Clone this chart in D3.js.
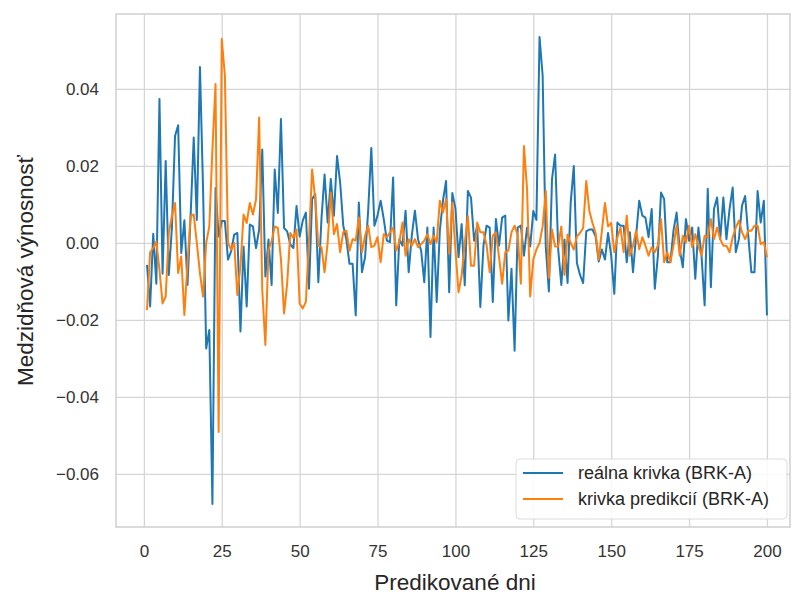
<!DOCTYPE html>
<html>
<head>
<meta charset="utf-8">
<script src="https://cdn.jsdelivr.net/npm/d3@7"></script>
<style>
  body { margin: 0; background: #fff; }
  text { font-family: "Liberation Sans", Arial, sans-serif; }
</style>
</head>
<body>
<div id="chart"></div>
<script>
// chart data (day 1..200)
var realValues = [
  -0.0057, -0.0165, 0.0024, -0.0106, 0.0374, -0.008, 0.0213, -0.0083, 0.004, 0.0278,
  0.0306, -0.0026, 0.0059, -0.0109, 0.007, 0.0274, 0.006, 0.0457, 0.0139, -0.0274,
  -0.0226, -0.0678, 0.0143, 0.0017, 0.0057, 0.0057, -0.0043, -0.0022, 0.0022, 0.0026,
  -0.023, -0.0009, -0.0165, 0.0048, 0.0043, -0.0013, 0.0035, 0.0243, -0.0087, 0.0009,
  -0.0109, 0.0191, 0.0078, 0.0322, 0.0039, 0.003, -0.0004, -0.0013, 0.0096, 0.0017,
  0.0058, 0.0079, -0.0119, 0.0114, 0.0127, -0.0102, 0.0062, 0.0178, 0.0053, 0.0166,
  0.0071, 0.0226, 0.0157, 0.0045, 0.0009, -0.0054, -0.0054, -0.0188, 0.0105, -0.0076,
  -0.0037, 0.0084, 0.0247, 0.0045, 0.0071, 0.011, 0.0062, 0.0006, 0.0002, 0.017,
  -0.0162, 0.001, -0.0007, 0.0084, -0.0076, 0.0019, 0.0084, 0.001, -0.002, -0.0102,
  0.004, -0.0244, 0.004, -0.0153, 0.0032, 0.011, 0.0161, -0.0128, 0.013, 0.009,
  -0.0037, 0.0049, -0.011, 0.0135, 0.0118, 0.0006, 0.0045, -0.0166, -0.0007, 0.0045,
  0.004, -0.0153, 0.0062, -0.0007, 0.0066, 0.0071, -0.0201, -0.0067, -0.028, 0.004,
  0.0045, -0.0033, 0.004, -0.0009, 0.0083, 0.006, 0.0535, 0.0435, -0.0009, -0.0126,
  0.0165, 0.023, -0.0017, -0.0109, 0.0009, -0.0104, 0.0104, 0.02, -0.0052, -0.0083,
  -0.0104, 0.003, 0.0035, 0.0035, 0.0017, -0.0048, -0.0017, -0.0043, 0.0026, -0.0033,
  -0.0132, 0.0053, 0.0045, 0.0045, -0.005, 0.0028, -0.0076, 0.0019, 0.011, 0.0071,
  0.0066, 0.0015, 0.0088, -0.0119, -0.0033, 0.0131, 0.0114, -0.005, -0.005, 0.0032,
  0.0079, -0.0016, -0.0063, 0.0062, 0.0006, 0.004, -0.0093, 0.004, -0.0033, -0.0162,
  0.0141, -0.0115, 0.0088, 0.0118, 0.001, 0.0118, 0.001, 0.0088, 0.0144, -0.0024,
  0.001, 0.0097, 0.0122, 0.0019, -0.0076, -0.0076, 0.0135, 0.0053, 0.011, -0.0188
];

var predValues = [
  -0.0174, -0.0024, -0.0013, 0.0004, -0.007, -0.0157, -0.0139, 0.0026, 0.007, 0.0104,
  -0.0078, -0.0035, -0.0187, -0.0052, 0.007, 0.0074, 0.0, -0.0078, -0.0139, 0.0,
  0.0043, 0.0243, 0.0413, -0.0491, 0.053, 0.0435, 0.0, -0.0017, 0.0, -0.0135,
  -0.006, 0.0074, 0.0052, 0.0104, 0.0074, 0.0113, 0.0326, -0.0122, -0.0265, -0.0017,
  0.0004, 0.0043, 0.0039, -0.0043, -0.0183, -0.0104, 0.0026, 0.0013, 0.0035, -0.0157,
  -0.017, -0.0153, 0.001, 0.0191, 0.0114, -0.0007, -0.0011, -0.0076, 0.0002, 0.0131,
  0.0023, 0.0049, -0.0024, 0.0028, 0.0032, -0.002, 0.001, 0.0006, 0.0066, -0.0024,
  0.0019, 0.0045, -0.0011, -0.0007, 0.0015, -0.005, 0.0023, 0.0015, 0.0028, 0.004,
  -0.002, 0.0002, 0.0053, -0.0033, 0.001, -0.0007, 0.001, -0.0011, -0.0003, 0.0006,
  0.0023, -0.0003, 0.0019, 0.0002, 0.011, 0.0079, 0.0114, -0.0028, 0.0105, -0.0016,
  -0.0128, -0.0085, 0.0, 0.007, -0.0059, -0.0059, 0.0053, 0.0028, 0.0028, -0.0005,
  -0.0076, 0.0019, 0.0028, -0.0037, -0.0106, -0.0024, -0.002, 0.0028, 0.0045, 0.002,
  -0.0106, 0.0252, 0.014, -0.0139, -0.0043, -0.0017, 0.0, 0.0043, 0.0135, -0.0091,
  0.0035, -0.0009, -0.0009, 0.0043, -0.0083, 0.0022, 0.0, -0.0017, 0.0017, 0.0026,
  0.0039, 0.0161, 0.0083, 0.0052, 0.0026, -0.0043, 0.003, 0.0104, 0.0043, 0.0052,
  -0.0024, 0.0015, 0.004, -0.0024, 0.0071, -0.0033, -0.0007, 0.0032, -0.0016, 0.0015,
  -0.0007, -0.0033, -0.0011, -0.0024, -0.0007, 0.0062, -0.005, -0.0024, -0.005, -0.0007,
  0.0045, -0.0033, 0.0019, 0.0002, 0.0045, -0.0011, 0.0023, -0.0007, -0.0033, 0.0019,
  0.0015, 0.0062, 0.001, 0.004, 0.001, -0.0007, -0.0007, -0.0024, 0.0015, 0.004,
  0.0058, 0.0028, 0.001, 0.0032, 0.0032, 0.0045, 0.0045, -0.0003, 0.0002, -0.0037
];

var xTicks = [0, 25, 50, 75, 100, 125, 150, 175, 200];
var yTicks = [-0.06, -0.04, -0.02, 0.00, 0.02, 0.04];
var seriesNames = ["reálna krivka (BRK-A)", "krivka predikcií (BRK-A)"];
var seriesColors = ["#1f77b4", "#ff7f0e"];

// Step 1: set up the chart
var svgWidth = 792;
var svgHeight = 595;

var margin = { top: 14, right: 2, bottom: 68, left: 116 };
var width = svgWidth - margin.left - margin.right;
var height = svgHeight - margin.top - margin.bottom;

var svg = d3.select("#chart")
  .append("svg")
  .attr("width", svgWidth)
  .attr("height", svgHeight);

var chartGroup = svg.append("g")
  .attr("transform", `translate(${margin.left}, ${margin.top})`);

// scales (matplotlib style 5% padding)
var xLinearScale = d3.scaleLinear()
  .domain([-8.95, 207.4])
  .range([0, width]);

var yLinearScale = d3.scaleLinear()
  .domain([-0.07377, 0.05948])
  .range([height, 0]);

// grid lines
var bottomAxis = d3.axisBottom(xLinearScale)
  .tickValues(xTicks)
  .tickSize(-height)
  .tickPadding(18)
  .tickFormat(d3.format("d"));

var leftAxis = d3.axisLeft(yLinearScale)
  .tickValues(yTicks)
  .tickSize(-width)
  .tickPadding(17)
  .tickFormat(d3.format(".2f"));

var xAxis = chartGroup.append("g")
  .attr("transform", `translate(0, ${height})`)
  .call(bottomAxis);

var yAxis = chartGroup.append("g")
  .call(leftAxis);

[xAxis, yAxis].forEach(function(ax) {
  ax.select(".domain").remove();
  ax.selectAll(".tick line")
    .attr("stroke", "#d5d5d5")
    .attr("stroke-width", 1.25);
  ax.selectAll(".tick text")
    .attr("fill", "#333333")
    .style("font-size", "17px");
});

// frame
chartGroup.append("rect")
  .attr("x", 0)
  .attr("y", 0)
  .attr("width", width)
  .attr("height", height)
  .attr("fill", "none")
  .attr("stroke", "#cfcfcf")
  .attr("stroke-width", 1.5);

// lines
var lineGen = d3.line()
  .x((d, i) => xLinearScale(i + 1))
  .y(d => yLinearScale(d));

[realValues, predValues].forEach(function(vals, k) {
  chartGroup.append("path")
    .datum(vals)
    .attr("fill", "none")
    .attr("stroke", seriesColors[k])
    .attr("stroke-width", 2)
    .attr("stroke-linejoin", "round")
    .attr("d", lineGen);
});

// axis titles
svg.append("text")
  .attr("x", margin.left + width / 2 + 2)
  .attr("y", 590)
  .attr("text-anchor", "middle")
  .attr("fill", "#262626")
  .style("font-size", "22.5px")
  .text("Predikované dni");

svg.append("text")
  .attr("transform", `translate(33, ${margin.top + height / 2}) rotate(-90)`)
  .attr("text-anchor", "middle")
  .attr("fill", "#262626")
  .style("font-size", "22.5px")
  .text("Medzidňová výnosnosť");

// legend
var legend = chartGroup.append("g")
  .attr("transform", `translate(${516 - margin.left}, ${459 - margin.top})`);

legend.append("rect")
  .attr("width", 271)
  .attr("height", 60)
  .attr("rx", 4)
  .attr("fill", "#fff")
  .attr("fill-opacity", 0.85)
  .attr("stroke", "#dcdcdc")
  .attr("stroke-width", 1);

seriesNames.forEach(function(name, k) {
  var yPos = 14 + k * 26;
  legend.append("line")
    .attr("x1", 7)
    .attr("x2", 47)
    .attr("y1", yPos)
    .attr("y2", yPos)
    .attr("stroke", seriesColors[k])
    .attr("stroke-width", 2);
  legend.append("text")
    .attr("x", 62)
    .attr("y", yPos + 6)
    .attr("fill", "#262626")
    .style("font-size", "18px")
    .text(name);
});
</script>
</body>
</html>
